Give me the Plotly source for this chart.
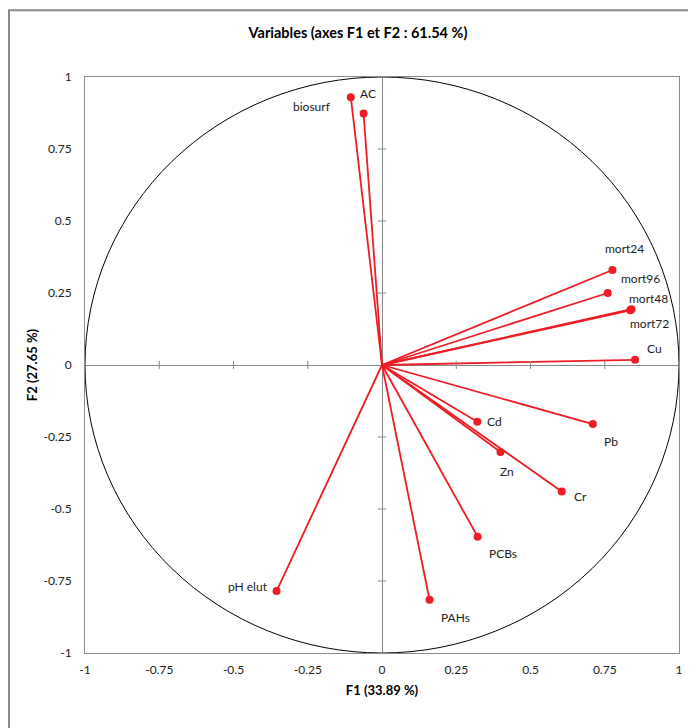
import plotly.graph_objects as go

# ---- data ----
variables = ["AC", "biosurf", "mort24", "mort96", "mort48", "mort72", "Cu",
             "Cd", "Pb", "Zn", "Cr", "PCBs", "PAHs", "pH elut"]
f1 = [-0.105, -0.062, 0.776, 0.760, 0.840, 0.836, 0.852,
      0.321, 0.710, 0.399, 0.605, 0.322, 0.160, -0.355]
f2 = [0.930, 0.873, 0.330, 0.250, 0.194, 0.190, 0.018,
      -0.197, -0.205, -0.302, -0.439, -0.596, -0.815, -0.785]
tick_vals = [-1, -0.75, -0.5, -0.25, 0, 0.25, 0.5, 0.75, 1]
tick_text = ["-1", "-0.75", "-0.5", "-0.25", "0", "0.25", "0.5", "0.75", "1"]

title_text = "Variables (axes F1 et F2 : 61.54 %)"
xtitle = "F1 (33.89 %)"
ytitle = "F2 (27.65 %)"

# label offsets in pixels (style)
label_off = {
    "AC": (17, 4), "biosurf": (-52, 7), "mort24": (12, 21), "mort96": (33, 15),
    "mort48": (17, 11), "mort72": (19, -13), "Cu": (19, 11), "Cd": (17, 0),
    "Pb": (18, -17), "Zn": (6, -20), "Cr": (19, -5), "PCBs": (25, -17),
    "PAHs": (26, -18), "pH elut": (-29, 5),
}

RED = "#EE1C25"
FONT = "Lato"

fig = go.Figure()

# vector lines from origin
lx, ly = [], []
for x, y in zip(f1, f2):
    lx += [0, x, None]
    ly += [0, y, None]
fig.add_trace(go.Scatter(x=lx, y=ly, mode="lines",
                         line=dict(color=RED, width=1.8),
                         hoverinfo="skip", showlegend=False))
fig.add_trace(go.Scatter(x=f1, y=f2, mode="markers", text=variables,
                         marker=dict(color=RED, size=8),
                         showlegend=False))

for name, x, y in zip(variables, f1, f2):
    dx, dy = label_off[name]
    fig.add_annotation(x=x, y=y, text=name, showarrow=False,
                       xshift=dx, yshift=dy,
                       font=dict(family=FONT, size=12, color="#222"))

# unit circle
fig.add_shape(type="circle", x0=-1, y0=-1, x1=1, y1=1,
              line=dict(color="black", width=1), layer="above")

# cross ticks on the zero axes
px_per_x = 594 / 2.0
px_per_y = 576 / 2.0
half = 4
for t in tick_vals:
    if t == 0:
        continue
    fig.add_shape(type="line", x0=-half / px_per_x, x1=half / px_per_x, y0=t, y1=t,
                  line=dict(color="#888888", width=1))
    fig.add_shape(type="line", x0=t, x1=t, y0=-half / px_per_y, y1=half / px_per_y,
                  line=dict(color="#888888", width=1))

# outer chart border
fig.add_shape(type="rect", xref="paper", yref="paper",
              x0=-0.128, x1=1.1, y0=-0.2, y1=1.116,
              line=dict(color="#8a8a8a", width=2))

axis_common = dict(
    range=[-1, 1], tickvals=tick_vals, ticktext=tick_text,
    showgrid=False, zeroline=True, zerolinecolor="#888888", zerolinewidth=1,
    showline=True, linecolor="#8c8c8c", linewidth=1, mirror=True,
    ticks="outside", tickcolor="rgba(0,0,0,0)",
    tickfont=dict(family=FONT, size=12, color="#222"),
    fixedrange=True,
)

fig.update_layout(
    width=696, height=728,
    margin=dict(l=77, r=25, t=69, b=83),
    paper_bgcolor="white", plot_bgcolor="white",
    title=dict(text="<b>" + title_text + "</b>", x=350 / 696, xref="container",
               xanchor="center", y=1 - 25 / 728, yref="container", yanchor="middle",
               font=dict(family=FONT, size=14.5, color="black")),
    xaxis=dict(**axis_common, ticklen=6,
               title=dict(text="<b>" + xtitle + "</b>", standoff=9,
                          font=dict(family=FONT, size=13, color="black"))),
    yaxis=dict(**axis_common, ticklen=10,
               title=dict(text="<b>" + ytitle + "</b>", standoff=2,
                          font=dict(family=FONT, size=13, color="black"))),
    font=dict(family=FONT),
)

fig.write_html("out.html")
